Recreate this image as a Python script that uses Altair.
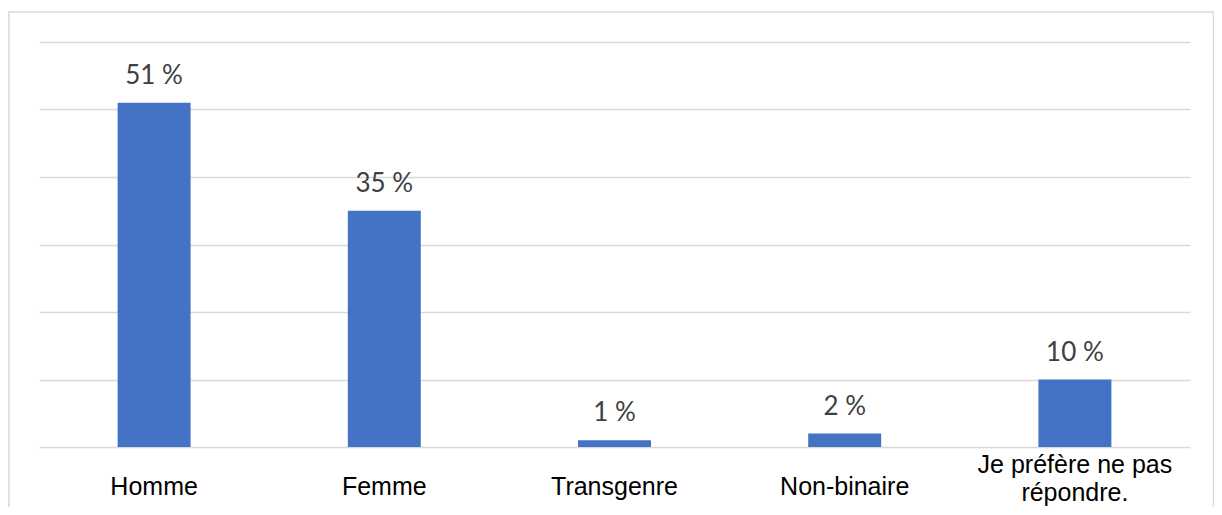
import altair as alt
import pandas as pd

categories = ["Homme", "Femme", "Transgenre", "Non-binaire", "Je préfère ne pas répondre."]
values = [51, 35, 1, 2, 10]
grid_ticks = [0, 10, 20, 30, 40, 50, 60]

df = pd.DataFrame({"cat": categories, "val": values})
df["lab"] = [f"{v} %" for v in values]

W, H = 1151, 405
LONG = "Je préfère ne pas répondre."

x = alt.X(
    "cat:N",
    sort=categories,
    scale=alt.Scale(paddingInner=0.683, paddingOuter=0.3415),
    axis=alt.Axis(
        title=None, domain=False, ticks=False, tickSize=0, labelAngle=0,
        labelFont="Liberation Sans", labelFontSize=25, labelColor="#000000",
        labelPadding={"condition": {"test": f"datum.value == '{LONG}'", "value": 17}, "value": 39},
        labelBaseline="middle", labelLineHeight=28, labelLimit=500,
        labelExpr=f"datum.value == '{LONG}' ? ['Je préfère ne pas', 'répondre.'] : datum.value",
    ),
)
y = alt.Y(
    "val:Q",
    scale=alt.Scale(domain=[0, 60], nice=False),
    axis=alt.Axis(
        title=None, labels=False, ticks=False, domain=False,
        values=grid_ticks, grid=True, gridColor="#d9d9d9", gridWidth=1.4,
    ),
)

base = alt.Chart(df)
bars = base.mark_bar(color="#4472C4").encode(x=x, y=y)
text = base.mark_text(
    font="Lato", fontSize=26, color="#404040", baseline="alphabetic", dy=-19
).encode(x=x, y=y, text="lab:N")

frame = alt.Chart(pd.DataFrame({"f": [0]})).mark_rect(
    fill=None, stroke="#d9d9d9", strokeWidth=1.5, clip=False
).encode(
    x=alt.value(-30), x2=alt.value(1174.5), y=alt.value(-30), y2=alt.value(520)
)

chart = alt.layer(frame, bars, text).properties(
    width=W, height=H,
    background="#ffffff",
    autosize=alt.AutoSizeParams(type="none"),
    padding={"left": 31, "top": 34, "right": 24, "bottom": 60},
).configure_view(strokeWidth=0, stroke="transparent")

chart.save("out.html", embed_options={"renderer": "svg", "actions": False})
